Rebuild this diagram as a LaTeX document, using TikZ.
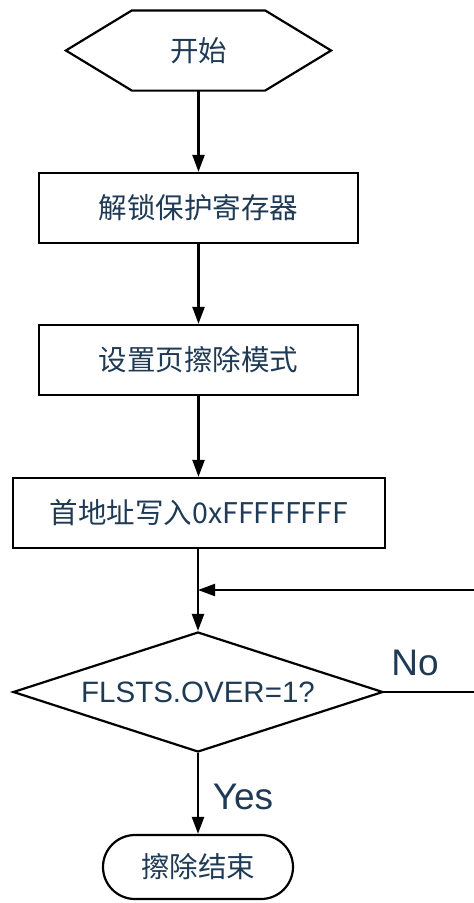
\documentclass[tikz,border=0pt]{standalone}
\usepackage{fontspec}
\setmainfont{Liberation Sans}
\newfontfamily\cjk{Noto Sans CJK SC}
\usetikzlibrary{shapes.geometric,arrows.meta,calc}
\definecolor{txt}{HTML}{1F3A55}
\begin{document}
\begin{tikzpicture}[x=1pt,y=-1pt,
  line width=2.2pt,
  every node/.style={text=txt},
  cn/.style={font=\cjk\fontsize{28.5}{31}\selectfont},
  procbox/.style={draw=black,rectangle,cn,inner sep=0pt,minimum height=70pt},
  decide/.style={draw=black,diamond,inner sep=0pt,minimum width=370pt,minimum height=120pt,aspect=3.08,font=\fontsize{29.5}{32}\selectfont},
  term/.style={draw=black,rectangle,rounded corners=32pt,cn,inner sep=0pt,minimum width=190pt,minimum height=64pt},
  lbl/.style={font=\fontsize{37}{40}\selectfont},
  arr/.style={draw=black,-{Triangle[length=17pt,width=12pt]}}]
\useasboundingbox (0,0) rectangle (474,903);
% start hexagon
\node[cn,minimum width=263pt,minimum height=78pt,inner sep=0pt] (start) at (198.5,50.5) {开始};
\draw[line join=miter] (start.west) -- ($(start.north west)+(66,0)$) -- ($(start.north east)+(-66,0)$) -- (start.east) -- ($(start.south east)+(-66,0)$) -- ($(start.south west)+(66,0)$) -- cycle;
\node[procbox,minimum width=319pt] (unlock) at (198.5,208) {解锁保护寄存器};
\node[procbox,minimum width=319pt] (mode) at (198.5,360) {设置页擦除模式};
\node[procbox,minimum width=372pt] (write) at (199,513) {首地址写入0xFFFFFFFF};
\node[decide] (check) at (198,692) {FLSTS.OVER=1?};
\node[term] (done) at (198,867) {擦除结束};
\coordinate (merge) at (198,590);
\coordinate (loopr) at (480,692);
\coordinate (loopt) at (480,590);
\node[lbl] (nolbl) at (415,663) {No};
\node[lbl] (yeslbl) at (243,797) {Yes};
\draw[arr] (start.south) -- (unlock.north);
\draw[arr] (unlock.south) -- (mode.north);
\draw[arr] (mode.south) -- (mode.south |- write.north);
\draw (write.south -| merge) -- (merge);
\draw[arr] (merge) -- (check.north);
\draw[arr] (check.east) -- (loopr) -- (loopt) -- (merge);
\draw[arr] (check.south) -- (done.north);
\end{tikzpicture}
\end{document}
